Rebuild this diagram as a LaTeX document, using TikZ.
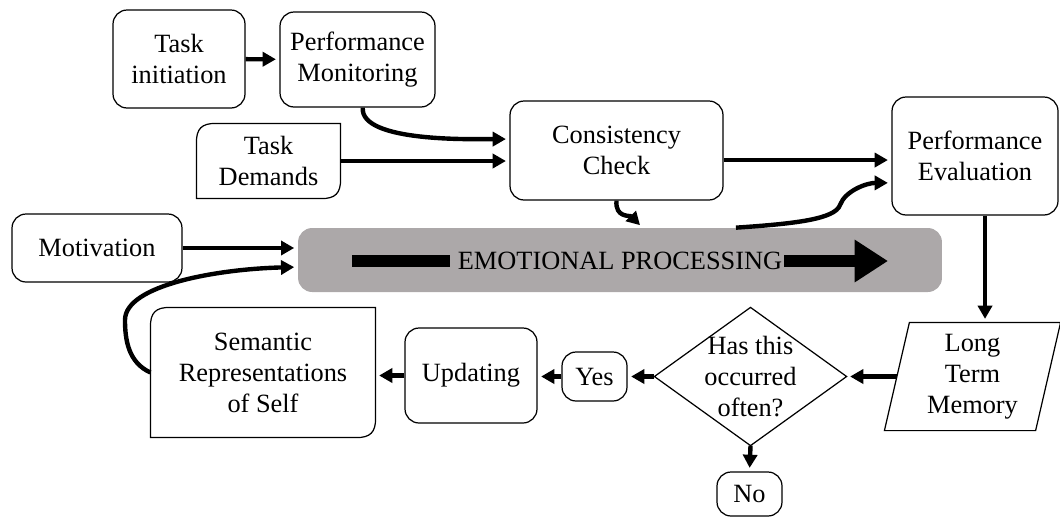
\documentclass[tikz,border=0pt]{standalone}
\usepackage{fontspec}
\setmainfont{Liberation Serif}
\usetikzlibrary{arrows.meta}
\definecolor{emogray}{RGB}{172,168,169}
\tikzset{
	box/.style={draw, line width=0.7pt, rounded corners=8pt, align=center, inner sep=2pt, font=\fontsize{15}{17.6}\selectfont},
	plain/.style={box, draw=none},
	conn/.style={line width=2.5pt, -{Triangle[length=7.5pt,width=8pt]}, shorten >=2pt},
}
% box with two round and two sharp corners
\newcommand{\diagbox}[1]{%
	\draw[line width=0.7pt] (#1.south west) -- ([yshift=-11pt]#1.north west)
		.. controls ([yshift=-3pt]#1.north west) and ([xshift=3pt]#1.north west) .. ([xshift=11pt]#1.north west) -- (#1.north east)
		-- ([yshift=11pt]#1.south east) .. controls ([yshift=3pt]#1.south east) and ([xshift=-3pt]#1.south east) .. ([xshift=-11pt]#1.south east) -- cycle;}

\begin{document}
\begin{tikzpicture}[x=0.02cm, y=-0.02cm]
	\useasboundingbox (0,0) rectangle (1060,518);

%rounded boxes
	\foreach \xy/\name/\w/\h/\txt in {{(179,59)/init/2.64/1.96/{Task\\initiation}}, {(357.5,59.5)/monitor/3.1/1.9/{Performance\\Monitoring}}, {(616.5,150.5)/check/4.26/1.98/{Consistency\\Check}}, {(975,156)/evaluation/3.32/2.36/{Performance\\Evaluation}}, {(97,248)/motivation/3.4/1.36/Motivation}, {(471,375.5)/updating/2.64/1.9/Updating}, {(594.5,376.5)/yes/1.3/0.98/Yes}, {(749.5,494)/no/1.3/0.88/No}}{
		\node[box, minimum width=\w cm, minimum height=\h cm] (\name) at \xy {\txt};
	}

%other shapes
	\node[plain, minimum width=2.86cm, minimum height=1.48cm] (demands) at (268.5,161) {Task\\Demands};
	\diagbox{demands}
	\node[plain, minimum width=4.48cm, minimum height=2.58cm] (semantic) at (263,372.5) {Semantic\\Representations\\of Self};
	\diagbox{semantic}

	\node[plain, minimum width=3.82cm, minimum height=2.74cm] (query) at (750.5,376.5) {Has this\\occurred\\often?};
	\draw[line width=0.7pt] (query.north) -- (query.east) -- (query.south) -- (query.west) -- cycle;

	\node[plain, minimum width=3.5cm, minimum height=2.14cm] (ltm) at (972.5,376.5) {Long\\Term\\Memory};
	\draw[line width=0.7pt] ([xshift=0.5cm]ltm.north west) -- (ltm.north east) -- ([xshift=-0.5cm]ltm.south east) -- (ltm.south west) -- cycle;

%emotional processing
	\node[fill=emogray, rounded corners=8pt, minimum width=12.88cm, minimum height=1.28cm] (emo) at (620,260) {};
	\node[font=\fontsize{15}{17.6}\selectfont, inner sep=1pt] (emotext) at (620,261) {EMOTIONAL PROCESSING};
	\coordinate (barstart) at (352,261);
	\coordinate (barend) at (888,261);
	\draw[line width=6.5pt] (barstart) -- ([xshift=-3pt]emotext.west);
	\draw[line width=6.5pt, -{Triangle[length=19pt,width=23pt]}] (emotext.east) -- (barend);

%arrows
	\draw[conn] (init) -- (monitor);
	\draw[conn] ([xshift=3pt]monitor.south) to[out=-95, in=180, looseness=0.6] ([yshift=6.5pt]check.west);
	\draw[conn] (demands.east) -- (demands.east -| check.west);

	\coordinate (evalin1) at ([yshift=-2.3pt]evaluation.west);
	\coordinate (evalin2) at ([yshift=-15.3pt]evaluation.west);
	\draw[conn] (check.east |- evalin1) -- (evalin1);
	\draw[conn] (check.south) to[out=-95, in=135, looseness=1.2] ([xshift=0.45cm]emo.north);
	\draw[conn] ([xshift=2.32cm]emo.north) .. controls +(60,-4) and +(-5,14) .. (840,205) .. controls +(5,-14) and +(-25,0) .. (evalin2);

	\draw[conn] (motivation) -- (motivation -| emo.west);
	\coordinate (emoin2) at ([yshift=-4pt]emo.west);
	\draw[conn] (semantic.west) .. controls +(-22,-10) and +(0,20) .. (125,320) .. controls +(0,-35) and +(-80,2) .. (emoin2);

%bottom row
	\coordinate (evalout) at ([xshift=5.7pt]evaluation.south);
	\draw[conn] (evalout) -- (evalout |- ltm.north);
	\coordinate (ltmin) at ([xshift=0.25cm]ltm.west);
	\draw[conn] (ltmin) -- (query.east);
	\draw[conn] (query.west) -- (yes.east);
	\draw[conn] (yes.west) -- (yes.west -| updating.east);
	\draw[conn] (updating.west) -- (updating.west -| semantic.east);
	\draw[conn] (query.south) -- (no.north);

\end{tikzpicture}
\end{document}
